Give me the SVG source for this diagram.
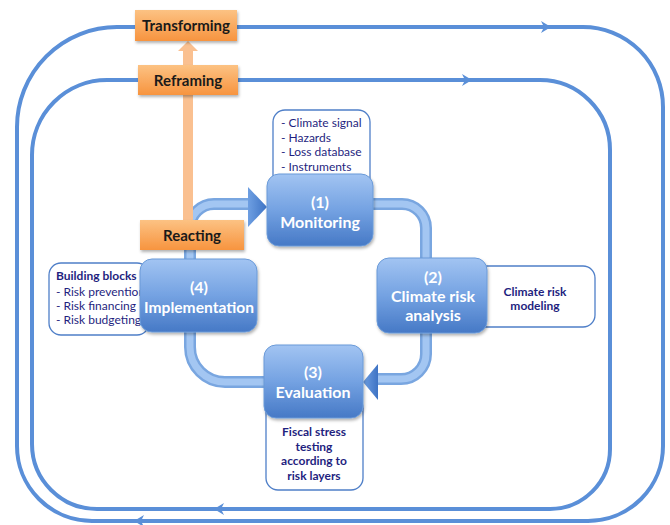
<svg xmlns="http://www.w3.org/2000/svg" width="670" height="525" viewBox="0 0 670 525">
<defs>
<linearGradient id="gBlue" x1="0" y1="0" x2="0" y2="1">
<stop offset="0" stop-color="#A2C4F2"/>
<stop offset="0.5" stop-color="#74A2E2"/>
<stop offset="1" stop-color="#4679C6"/>
</linearGradient>
<linearGradient id="gOrange" x1="0" y1="0" x2="0" y2="1">
<stop offset="0" stop-color="#FCC283"/>
<stop offset="1" stop-color="#F7943F"/>
</linearGradient>
<linearGradient id="gHead" x1="0" y1="0" x2="1" y2="0">
<stop offset="0" stop-color="#6E9FE2"/>
<stop offset="1" stop-color="#3E73C4"/>
</linearGradient>
<filter id="sh" x="-20%" y="-20%" width="140%" height="150%">
<feDropShadow dx="1" dy="2" stdDeviation="1.5" flood-color="#000" flood-opacity="0.3"/>
</filter>
</defs>
<style>
.loop{fill:none;stroke:#5A8FD8;stroke-width:4}
.ah{fill:#5A8FD8}
.pipeO{fill:none;stroke:#79A6E0;stroke-width:12}
.pipeI{fill:none;stroke:#A3C6F2;stroke-width:7}
.node{fill:url(#gBlue);stroke:#6A9AD8;stroke-width:1;filter:url(#sh)}
.ntxt{font-family:Lato,"Open Sans",sans-serif;font-weight:bold;font-size:16px;fill:#fff;text-anchor:middle}
.obox{fill:url(#gOrange);filter:url(#sh)}
.otxt{font-family:Lato,"Open Sans",sans-serif;font-weight:bold;font-size:15px;fill:#1a1a1a;text-anchor:middle}
.note{fill:#fff;stroke:#4F7FC8;stroke-width:1.3}
.ntl{font-family:Lato,"Open Sans",sans-serif;font-size:12px;fill:#1F1F80}
.ntb{font-family:Lato,"Open Sans",sans-serif;font-size:12px;font-weight:bold;fill:#1F1F80}
</style>

<g id="connectors">
<path class="loop" d="M117,27 H583 A80,80 0 0 1 663,107 V446 A75,75 0 0 1 588,521 H92 A75,75 0 0 1 17,446 V127 A100,100 0 0 1 117,27 Z"/>
<path class="loop" d="M107,80 H540 A70,70 0 0 1 610,150 V449 A60,60 0 0 1 550,509 H97 A65,65 0 0 1 32,444 V155 A75,75 0 0 1 107,80 Z"/>
<polygon class="ah" points="541,21 551,27 541,33 544,27"/>
<polygon class="ah" points="462,74 472,80 462,86 465,80"/>
<polygon class="ah" points="224,503 214,509 224,515 221,509"/>
<polygon class="ah" points="144,515 134,521 144,527 141,521"/>
<path class="pipeO" d="M190,262 V228 A24,24 0 0 1 214,204 H252"/>
<path class="pipeI" d="M190,262 V228 A24,24 0 0 1 214,204 H252"/>
<path class="pipeO" d="M370,204 H402 A24,24 0 0 1 426,228 V260"/>
<path class="pipeI" d="M370,204 H402 A24,24 0 0 1 426,228 V260"/>
<path class="pipeO" d="M426,330 V354 A25,25 0 0 1 401,379 H376"/>
<path class="pipeI" d="M426,330 V354 A25,25 0 0 1 401,379 H376"/>
<path class="pipeO" d="M267,382 H225 A35,35 0 0 1 190,347 V330"/>
<path class="pipeI" d="M267,382 H225 A35,35 0 0 1 190,347 V330"/>
<polygon points="248,187 267,207 248,227" fill="url(#gHead)"/>
<polygon points="378,364 363,382 378,400" fill="url(#gHead)"/>
<rect x="183" y="50" width="10" height="172" fill="#FAC090"/>
<polygon points="178,51 188,41 198,51" fill="#FAC090"/>
</g>

<g id="transforming">
<rect class="obox" x="135" y="10" width="102" height="31"/>
<text class="otxt" x="186" y="31">Transforming</text>
</g>
<g id="reframing">
<rect class="obox" x="138" y="65" width="100" height="30"/>
<text class="otxt" x="188" y="86">Reframing</text>
</g>
<g id="reacting">
<rect class="obox" x="140" y="220" width="104" height="30"/>
<text class="otxt" x="192" y="241">Reacting</text>
</g>

<g id="note-monitoring">
<rect class="note" x="273" y="110" width="97" height="84" rx="12"/>
<text class="ntl" x="281" y="127">- Climate signal</text>
<text class="ntl" x="281" y="141.5">- Hazards</text>
<text class="ntl" x="281" y="156">- Loss database</text>
<text class="ntl" x="281" y="170.5">- Instruments</text>
</g>
<g id="monitoring">
<rect class="node" x="267" y="174" width="106" height="72" rx="12"/>
<text class="ntxt" x="320" y="208">(1)</text>
<text class="ntxt" x="320" y="228">Monitoring</text>
</g>

<g id="note-analysis">
<rect class="note" x="472" y="266" width="123" height="61" rx="12"/>
<text class="ntb" x="535" y="296" text-anchor="middle">Climate risk</text>
<text class="ntb" x="535" y="310" text-anchor="middle">modeling</text>
</g>
<g id="analysis">
<rect class="node" x="377" y="258" width="110" height="75" rx="12"/>
<text class="ntxt" x="433" y="283">(2)</text>
<text class="ntxt" x="433" y="302">Climate risk</text>
<text class="ntxt" x="433" y="321">analysis</text>
</g>

<g id="note-evaluation">
<rect class="note" x="266" y="396" width="97" height="94" rx="12"/>
<text class="ntb" x="314" y="436" text-anchor="middle">Fiscal stress</text>
<text class="ntb" x="314" y="451" text-anchor="middle">testing</text>
<text class="ntb" x="314" y="465" text-anchor="middle">according to</text>
<text class="ntb" x="314" y="480" text-anchor="middle">risk layers</text>
</g>
<g id="evaluation">
<rect class="node" x="264" y="345" width="99" height="73" rx="12"/>
<text class="ntxt" x="313" y="378">(3)</text>
<text class="ntxt" x="313" y="398">Evaluation</text>
</g>

<g id="note-implementation">
<rect class="note" x="49" y="263" width="100" height="72" rx="12"/>
<text class="ntb" x="56" y="280">Building blocks</text>
<text class="ntl" x="56" y="296">- Risk prevention</text>
<text class="ntl" x="56" y="310">- Risk financing</text>
<text class="ntl" x="56" y="324">- Risk budgeting</text>
</g>
<g id="implementation">
<rect class="node" x="140" y="259" width="117" height="73" rx="12"/>
<text class="ntxt" x="199" y="293">(4)</text>
<text class="ntxt" x="199" y="313" textLength="110" lengthAdjust="spacingAndGlyphs">Implementation</text>
</g>
</svg>
